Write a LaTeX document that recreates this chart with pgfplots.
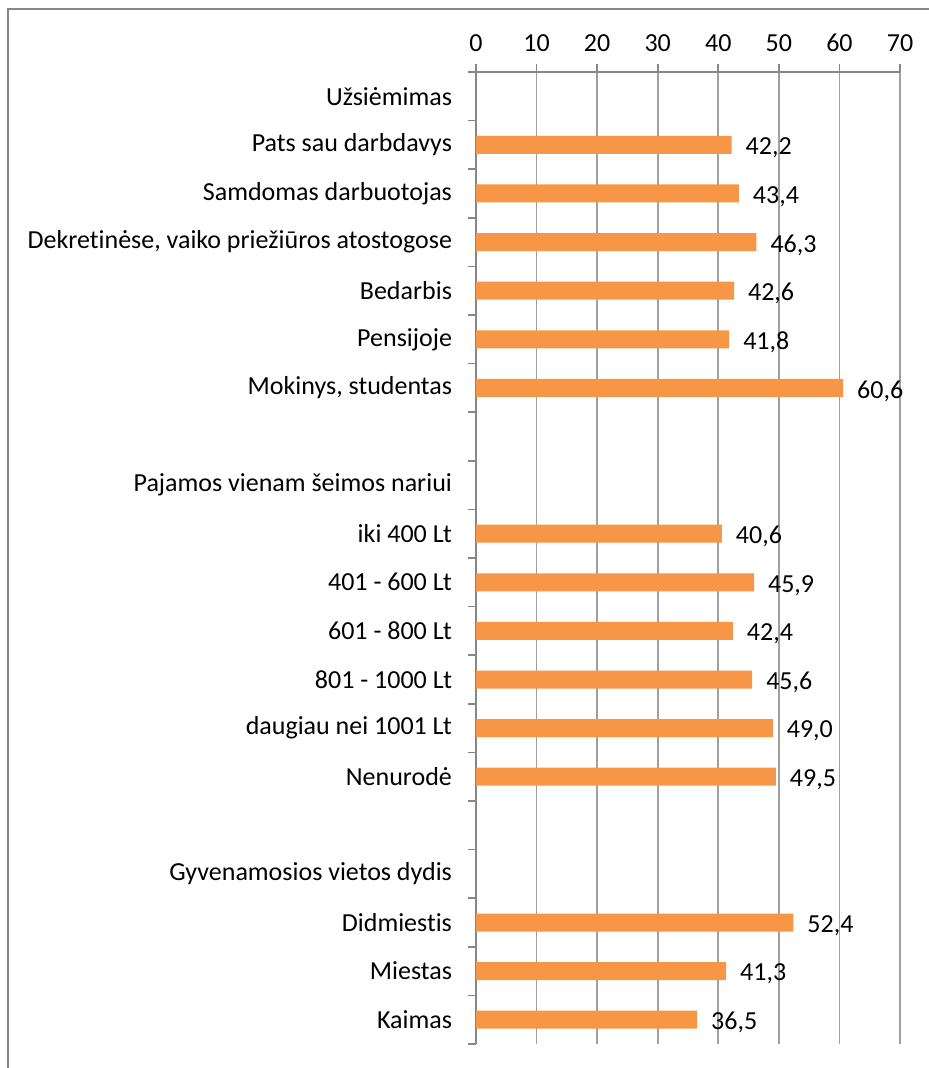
\documentclass[border=0pt]{standalone}
\usepackage{pgfplots}
\pgfplotsset{compat=1.18}
\usepackage{fontspec}
\setmainfont{Carlito}[Ligatures=NoCommon]
\definecolor{barorange}{HTML}{F79646}
\definecolor{axgray}{HTML}{868686}
\definecolor{gridgray}{HTML}{A0A0A0}
\begin{document}
\begin{tikzpicture}
\useasboundingbox (0pt,0pt) rectangle (464.5pt,534pt);
\draw[axgray, line width=1pt] (4pt,0pt) -- (4pt,529.5pt) -- (464.5pt,529.5pt);
\begin{axis}[
  at={(238pt,12pt)}, anchor=south west,
  scale only axis, width=212pt, height=486pt,
  xbar, bar width=9pt,
  xmin=0, xmax=70, ymin=-0.5, ymax=19.5, y dir=reverse,
  axis x line=top, axis y line=left,
  axis line style={axgray, line width=0.8pt, -},
  xtick={0,10,...,70}, xmajorgrids,
  grid style={gridgray, line width=0.8pt},
  tick align=outside,
  tick style={axgray, line width=0.8pt},
  major tick length=4pt, minor tick length=4pt,
  every major y tick/.append style={draw=none},
  ytick={0,...,19},
  minor ytick={-0.5,0.5,...,19.5},
  yticklabels={Užsiėmimas, Pats sau darbdavys, Samdomas darbuotojas, {Dekretinėse, vaiko priežiūros atostogose}, Bedarbis, Pensijoje, {Mokinys, studentas}, {}, Pajamos vienam šeimos nariui, iki 400 Lt, 401 - 600 Lt, 601 - 800 Lt, 801 - 1000 Lt, daugiau nei 1001 Lt, Nenurodė, {}, Gyvenamosios vietos dydis, Didmiestis, Miestas, Kaimas},
  ticklabel style={font=\fontsize{13}{15}\selectfont},
  yticklabel style={xshift=-4.5pt},
  xticklabel style={yshift=2.5pt},
  /pgf/number format/assume math mode=true,
  clip=false,
  point meta=x,
  nodes near coords={\pgfmathprintnumber[fixed,fixed zerofill,precision=1,use comma,assume math mode=true]{\pgfplotspointmeta}},
  every node near coord/.append style={font=\fontsize{13}{15}\selectfont, anchor=west, xshift=3.5pt, yshift=-1.5pt, text=black},
]
\addplot[fill=barorange, draw=none] coordinates {
  (42.2,1) (43.4,2) (46.3,3) (42.6,4) (41.8,5) (60.6,6)
  (40.6,9) (45.9,10) (42.4,11) (45.6,12) (49.0,13) (49.5,14)
  (52.4,17) (41.3,18) (36.5,19)
};
\end{axis}
\end{tikzpicture}
\end{document}
